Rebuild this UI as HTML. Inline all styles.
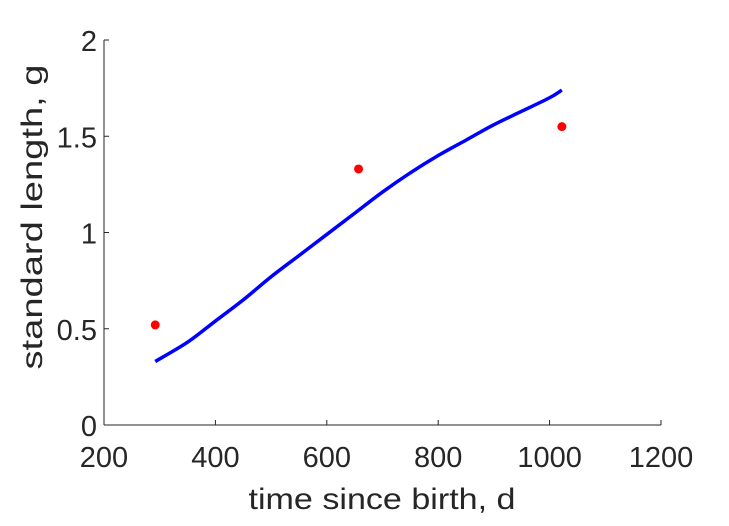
<!DOCTYPE html>
<html><head><meta charset="utf-8"><style>
html,body{margin:0;padding:0;background:#fff;}
svg text{font-family:"Liberation Sans",sans-serif;fill:#262626;}
</style></head><body>
<svg id="chart" width="729" height="521" viewBox="0 0 729 521" xmlns="http://www.w3.org/2000/svg">
<rect width="729" height="521" fill="#fff"/>
<g id="axes"></g>
<g id="series"></g>
<text x="382" y="509" font-size="30" text-anchor="middle" textLength="267" lengthAdjust="spacingAndGlyphs">time since birth, d</text>
<text transform="translate(42,217) rotate(-90)" font-size="30" text-anchor="middle" textLength="305" lengthAdjust="spacingAndGlyphs">standard length, g</text>
</svg>
<script>
const xTicks=[200,400,600,800,1000,1200];
const yTicks=[0,0.5,1,1.5,2];
const yTickLabels=["0","0.5","1","1.5","2"];
const obsX=[292,657,1022];
const obsY=[0.52,1.33,1.55];
const fitX=[292,350,400,450,500,550,600,650,700,750,800,850,900,950,1000,1022];
const fitY=[0.33,0.43,0.54,0.65,0.77,0.88,0.99,1.10,1.21,1.31,1.40,1.48,1.56,1.63,1.70,1.74];
const L=104,R=661,T=40,B=425;
const sx=v=>L+(v-200)/1000*(R-L);
const sy=v=>B-v/2*(B-T);
const NS="http://www.w3.org/2000/svg";
const ax=document.getElementById('axes'),se=document.getElementById('series');
function mk(t,a,p){const e=document.createElementNS(NS,t);for(const k in a)e.setAttribute(k,a[k]);p.appendChild(e);return e;}
let e=mk('line',{x1:L,y1:B,x2:R,y2:B,stroke:'#262626','stroke-width':1},ax);


e=mk('line',{x1:L,y1:B,x2:L,y2:T,stroke:'#262626','stroke-width':1},ax);


xTicks.forEach(v=>{
 const t=mk('line',{x1:sx(v),y1:B,x2:sx(v),y2:B-5,stroke:'#262626'},ax);
 
 
 const l=mk('text',{x:sx(v),y:B+42,'font-size':29,'text-anchor':'middle'},ax);
 l.textContent=v;
 
 
});
yTicks.forEach((v,i)=>{
 const t=mk('line',{x1:L,y1:sy(v),x2:L+5,y2:sy(v),stroke:'#262626'},ax);
 
 
 const l=mk('text',{x:L-7,y:sy(v)+11,'font-size':29,'text-anchor':'end'},ax);
 l.textContent=yTickLabels[i];
 
 
});
const pts=fitX.map((x,i)=>[sx(x),sy(fitY[i])]);
let d='M'+pts[0][0]+','+pts[0][1];
for(let i=0;i<pts.length-1;i++){
 const p0=pts[Math.max(0,i-1)],p1=pts[i],p2=pts[i+1],p3=pts[Math.min(pts.length-1,i+2)];
 const c1=[p1[0]+(p2[0]-p0[0])/6,p1[1]+(p2[1]-p0[1])/6];
 const c2=[p2[0]-(p3[0]-p1[0])/6,p2[1]-(p3[1]-p1[1])/6];
 d+=' C'+c1+' '+c2+' '+p2;
}
const p=mk('path',{d:d,fill:'none',stroke:'#0000ff','stroke-width':3.5},se);


obsX.forEach((x,i)=>{
 const c=mk('circle',{cx:sx(x),cy:sy(obsY[i]),r:4.5,fill:'#ff0000'},se);
 
 
});
</script>
</body></html>
